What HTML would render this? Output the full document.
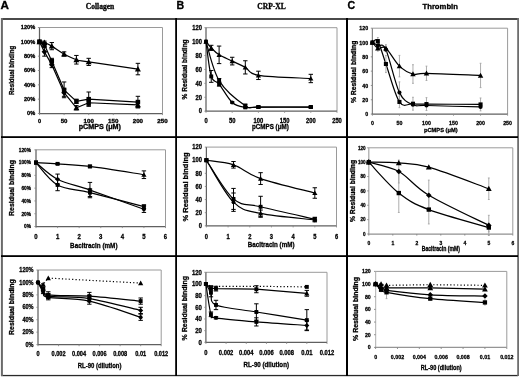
<!DOCTYPE html>
<html><head><meta charset="utf-8"><style>
html,body{margin:0;padding:0;background:#fff;width:520px;height:377px;overflow:hidden;}
svg{display:block;filter:grayscale(1) blur(0.35px);}
text{fill:#000;stroke:#000;stroke-width:0.3px;}
</style></head><body>
<svg width="520" height="377" viewBox="0 0 520 377">
<rect width="520" height="377" fill="#fff"/>
<rect x="1" y="18" width="517" height="2" fill="#4a4a4a"/>
<rect x="1" y="374.9" width="517" height="1.3" fill="#2a2a2a"/>
<rect x="0.9" y="18" width="2" height="358" fill="#6a6a6a"/>
<rect x="517.2" y="18" width="1.8" height="358" fill="#6e6e6e"/>
<rect x="175.2" y="18" width="1.8" height="358" fill="#000"/>
<rect x="346" y="18" width="2" height="358" fill="#000"/>
<rect x="1" y="136.2" width="517" height="1.8" fill="#000"/>
<rect x="1" y="255.2" width="517" height="1.8" fill="#000"/>
<path d="M39.50,27.50 H162.50 V113.50" fill="none" stroke="#9a9a9a" stroke-width="1"/>
<path d="M39.50,27.50 V113.50" fill="none" stroke="#606060" stroke-width="1.25"/>
<path d="M38.90,113.50 H162.50" fill="none" stroke="#606060" stroke-width="1.25"/>
<line x1="37.90" y1="113.50" x2="39.50" y2="113.50" stroke="#888" stroke-width="0.9"/>
<text x="27.11" y="115.26" font-size="5.43" font-weight="bold" font-family="Liberation Sans, sans-serif" textLength="8.09" lengthAdjust="spacingAndGlyphs">0%</text>
<line x1="37.90" y1="99.17" x2="39.50" y2="99.17" stroke="#888" stroke-width="0.9"/>
<text x="23.99" y="100.92" font-size="5.43" font-weight="bold" font-family="Liberation Sans, sans-serif" textLength="11.21" lengthAdjust="spacingAndGlyphs">20%</text>
<line x1="37.90" y1="84.83" x2="39.50" y2="84.83" stroke="#888" stroke-width="0.9"/>
<text x="23.99" y="86.59" font-size="5.43" font-weight="bold" font-family="Liberation Sans, sans-serif" textLength="11.21" lengthAdjust="spacingAndGlyphs">40%</text>
<line x1="37.90" y1="70.50" x2="39.50" y2="70.50" stroke="#888" stroke-width="0.9"/>
<text x="23.99" y="72.26" font-size="5.43" font-weight="bold" font-family="Liberation Sans, sans-serif" textLength="11.21" lengthAdjust="spacingAndGlyphs">60%</text>
<line x1="37.90" y1="56.17" x2="39.50" y2="56.17" stroke="#888" stroke-width="0.9"/>
<text x="23.99" y="57.92" font-size="5.43" font-weight="bold" font-family="Liberation Sans, sans-serif" textLength="11.21" lengthAdjust="spacingAndGlyphs">80%</text>
<line x1="37.90" y1="41.83" x2="39.50" y2="41.83" stroke="#888" stroke-width="0.9"/>
<text x="20.88" y="43.59" font-size="5.43" font-weight="bold" font-family="Liberation Sans, sans-serif" textLength="14.32" lengthAdjust="spacingAndGlyphs">100%</text>
<line x1="37.90" y1="27.50" x2="39.50" y2="27.50" stroke="#888" stroke-width="0.9"/>
<text x="20.88" y="29.26" font-size="5.43" font-weight="bold" font-family="Liberation Sans, sans-serif" textLength="14.32" lengthAdjust="spacingAndGlyphs">120%</text>
<line x1="39.50" y1="113.50" x2="39.50" y2="115.10" stroke="#888" stroke-width="0.9"/>
<text x="37.94" y="122.86" font-size="5.43" font-weight="bold" font-family="Liberation Sans, sans-serif" textLength="3.11" lengthAdjust="spacingAndGlyphs">0</text>
<line x1="64.10" y1="113.50" x2="64.10" y2="115.10" stroke="#888" stroke-width="0.9"/>
<text x="60.74" y="122.86" font-size="5.43" font-weight="bold" font-family="Liberation Sans, sans-serif" textLength="6.73" lengthAdjust="spacingAndGlyphs">50</text>
<line x1="88.70" y1="113.50" x2="88.70" y2="115.10" stroke="#888" stroke-width="0.9"/>
<text x="83.53" y="122.86" font-size="5.43" font-weight="bold" font-family="Liberation Sans, sans-serif" textLength="10.34" lengthAdjust="spacingAndGlyphs">100</text>
<line x1="113.30" y1="113.50" x2="113.30" y2="115.10" stroke="#888" stroke-width="0.9"/>
<text x="108.13" y="122.86" font-size="5.43" font-weight="bold" font-family="Liberation Sans, sans-serif" textLength="10.34" lengthAdjust="spacingAndGlyphs">150</text>
<line x1="137.90" y1="113.50" x2="137.90" y2="115.10" stroke="#888" stroke-width="0.9"/>
<text x="132.73" y="122.86" font-size="5.43" font-weight="bold" font-family="Liberation Sans, sans-serif" textLength="10.34" lengthAdjust="spacingAndGlyphs">200</text>
<line x1="162.50" y1="113.50" x2="162.50" y2="115.10" stroke="#888" stroke-width="0.9"/>
<text x="157.33" y="122.86" font-size="5.43" font-weight="bold" font-family="Liberation Sans, sans-serif" textLength="10.34" lengthAdjust="spacingAndGlyphs">250</text>
<text x="78.70" y="128.80" font-size="6.30" font-weight="bold" font-family="Liberation Sans, sans-serif" textLength="42.20" lengthAdjust="spacingAndGlyphs">pCMPS (μM)</text>
<text transform="translate(14.30,70.40) rotate(-90)" text-anchor="middle" font-size="7.2" font-weight="bold" font-family="Liberation Sans, sans-serif" textLength="49.40" lengthAdjust="spacingAndGlyphs">Residual binding</text>
<path d="M39.50,41.83 C40.32,41.95 42.37,41.83 44.42,42.55 C46.47,43.27 48.52,44.22 51.80,46.13 C55.08,48.04 60.00,51.75 64.10,54.02 C68.20,56.29 72.30,58.44 76.40,59.75 C80.50,61.06 78.45,60.35 88.70,61.90 C98.95,63.45 129.70,67.87 137.90,69.07" fill="none" stroke="#000" stroke-width="1.2"/>
<path d="M39.50,41.83 L44.42,44.70 L51.80,61.18 L64.10,89.85 L76.40,101.32 L88.70,99.17 L137.90,102.03" fill="none" stroke="#000" stroke-width="1.2"/>
<path d="M39.50,41.83 L44.42,51.87 L51.80,64.77 L64.10,92.72 L76.40,107.77 L88.70,102.75 L137.90,104.90" fill="none" stroke="#000" stroke-width="1.2"/>
<path d="M44.42,41.12 V43.98 M42.22,41.12 H46.62 M42.22,43.98 H46.62" stroke="#000" stroke-width="1.0" fill="none"/>
<path d="M51.80,42.55 V49.72 M49.60,42.55 H54.00 M49.60,49.72 H54.00" stroke="#000" stroke-width="1.0" fill="none"/>
<path d="M64.10,51.87 V56.17 M61.90,51.87 H66.30 M61.90,56.17 H66.30" stroke="#000" stroke-width="1.0" fill="none"/>
<path d="M76.40,55.45 V64.05 M74.20,55.45 H78.60 M74.20,64.05 H78.60" stroke="#000" stroke-width="1.0" fill="none"/>
<path d="M88.70,58.32 V65.48 M86.50,58.32 H90.90 M86.50,65.48 H90.90" stroke="#000" stroke-width="1.0" fill="none"/>
<path d="M137.90,63.33 V74.80 M135.70,63.33 H140.10 M135.70,74.80 H140.10" stroke="#000" stroke-width="1.0" fill="none"/>
<path d="M44.42,42.55 V46.85 M42.22,42.55 H46.62 M42.22,46.85 H46.62" stroke="#000" stroke-width="1.0" fill="none"/>
<path d="M51.80,58.32 V64.05 M49.60,58.32 H54.00 M49.60,64.05 H54.00" stroke="#000" stroke-width="1.0" fill="none"/>
<path d="M64.10,81.97 V97.73 M61.90,81.97 H66.30 M61.90,97.73 H66.30" stroke="#000" stroke-width="1.0" fill="none"/>
<path d="M76.40,99.17 V103.47 M74.20,99.17 H78.60 M74.20,103.47 H78.60" stroke="#000" stroke-width="1.0" fill="none"/>
<path d="M88.70,92.00 V106.33 M86.50,92.00 H90.90 M86.50,106.33 H90.90" stroke="#000" stroke-width="1.0" fill="none"/>
<path d="M137.90,96.30 V107.77 M135.70,96.30 H140.10 M135.70,107.77 H140.10" stroke="#000" stroke-width="1.0" fill="none"/>
<path d="M44.42,47.57 V56.17 M42.22,47.57 H46.62 M42.22,56.17 H46.62" stroke="#000" stroke-width="1.0" fill="none"/>
<path d="M51.80,61.90 V67.63 M49.60,61.90 H54.00 M49.60,67.63 H54.00" stroke="#000" stroke-width="1.0" fill="none"/>
<path d="M64.10,89.13 V96.30 M61.90,89.13 H66.30 M61.90,96.30 H66.30" stroke="#000" stroke-width="1.0" fill="none"/>
<path d="M76.40,105.62 V109.92 M74.20,105.62 H78.60 M74.20,109.92 H78.60" stroke="#000" stroke-width="1.0" fill="none"/>
<path d="M88.70,99.88 V105.62 M86.50,99.88 H90.90 M86.50,105.62 H90.90" stroke="#000" stroke-width="1.0" fill="none"/>
<path d="M137.90,102.03 V107.77 M135.70,102.03 H140.10 M135.70,107.77 H140.10" stroke="#000" stroke-width="1.0" fill="none"/>
<path d="M39.50,38.84 L42.49,44.23 L36.51,44.23Z" fill="#000"/>
<path d="M44.42,39.56 L47.41,44.94 L41.43,44.94Z" fill="#000"/>
<path d="M51.80,43.14 L54.79,48.53 L48.81,48.53Z" fill="#000"/>
<path d="M64.10,51.03 L67.09,56.41 L61.11,56.41Z" fill="#000"/>
<path d="M76.40,56.76 L79.39,62.14 L73.41,62.14Z" fill="#000"/>
<path d="M88.70,58.91 L91.69,64.29 L85.71,64.29Z" fill="#000"/>
<path d="M137.90,66.08 L140.89,71.46 L134.91,71.46Z" fill="#000"/>
<rect x="37.26" y="39.59" width="4.48" height="4.48" fill="#000"/>
<rect x="42.18" y="42.46" width="4.48" height="4.48" fill="#000"/>
<rect x="49.56" y="58.94" width="4.48" height="4.48" fill="#000"/>
<rect x="61.86" y="87.61" width="4.48" height="4.48" fill="#000"/>
<rect x="74.16" y="99.07" width="4.48" height="4.48" fill="#000"/>
<rect x="86.46" y="96.92" width="4.48" height="4.48" fill="#000"/>
<rect x="135.66" y="99.79" width="4.48" height="4.48" fill="#000"/>
<rect x="37.26" y="39.59" width="4.48" height="4.48" fill="#000"/>
<path d="M44.42,48.99 L47.30,51.87 L44.42,54.74 L41.55,51.87Z" fill="#000"/>
<path d="M51.80,61.89 L54.67,64.77 L51.80,67.64 L48.92,64.77Z" fill="#000"/>
<path d="M64.10,89.84 L66.97,92.72 L64.10,95.59 L61.22,92.72Z" fill="#000"/>
<path d="M76.40,104.78 L79.39,110.16 L73.41,110.16Z" fill="#000"/>
<rect x="86.46" y="100.51" width="4.48" height="4.48" fill="#000"/>
<path d="M137.90,101.91 L140.89,107.29 L134.91,107.29Z" fill="#000"/>
<path d="M36.00,149.80 H165.50 V226.50" fill="none" stroke="#9a9a9a" stroke-width="1"/>
<path d="M36.00,149.80 V226.50" fill="none" stroke="#606060" stroke-width="1.25"/>
<path d="M35.40,226.50 H165.50" fill="none" stroke="#606060" stroke-width="1.25"/>
<line x1="34.40" y1="226.50" x2="36.00" y2="226.50" stroke="#888" stroke-width="0.9"/>
<text x="24.06" y="228.34" font-size="5.66" font-weight="bold" font-family="Liberation Sans, sans-serif" textLength="6.94" lengthAdjust="spacingAndGlyphs">0%</text>
<line x1="34.40" y1="213.72" x2="36.00" y2="213.72" stroke="#888" stroke-width="0.9"/>
<text x="21.40" y="215.56" font-size="5.66" font-weight="bold" font-family="Liberation Sans, sans-serif" textLength="9.60" lengthAdjust="spacingAndGlyphs">20%</text>
<line x1="34.40" y1="200.93" x2="36.00" y2="200.93" stroke="#888" stroke-width="0.9"/>
<text x="21.40" y="202.77" font-size="5.66" font-weight="bold" font-family="Liberation Sans, sans-serif" textLength="9.60" lengthAdjust="spacingAndGlyphs">40%</text>
<line x1="34.40" y1="188.15" x2="36.00" y2="188.15" stroke="#888" stroke-width="0.9"/>
<text x="21.40" y="189.99" font-size="5.66" font-weight="bold" font-family="Liberation Sans, sans-serif" textLength="9.60" lengthAdjust="spacingAndGlyphs">60%</text>
<line x1="34.40" y1="175.37" x2="36.00" y2="175.37" stroke="#888" stroke-width="0.9"/>
<text x="21.40" y="177.21" font-size="5.66" font-weight="bold" font-family="Liberation Sans, sans-serif" textLength="9.60" lengthAdjust="spacingAndGlyphs">80%</text>
<line x1="34.40" y1="162.58" x2="36.00" y2="162.58" stroke="#888" stroke-width="0.9"/>
<text x="18.73" y="164.42" font-size="5.66" font-weight="bold" font-family="Liberation Sans, sans-serif" textLength="12.27" lengthAdjust="spacingAndGlyphs">100%</text>
<line x1="34.40" y1="149.80" x2="36.00" y2="149.80" stroke="#888" stroke-width="0.9"/>
<text x="18.73" y="151.64" font-size="5.66" font-weight="bold" font-family="Liberation Sans, sans-serif" textLength="12.27" lengthAdjust="spacingAndGlyphs">120%</text>
<line x1="36.00" y1="226.50" x2="36.00" y2="228.10" stroke="#888" stroke-width="0.9"/>
<text x="34.33" y="238.65" font-size="7.08" font-weight="bold" font-family="Liberation Sans, sans-serif" textLength="3.34" lengthAdjust="spacingAndGlyphs">0</text>
<line x1="57.58" y1="226.50" x2="57.58" y2="228.10" stroke="#888" stroke-width="0.9"/>
<text x="55.92" y="238.65" font-size="7.08" font-weight="bold" font-family="Liberation Sans, sans-serif" textLength="3.34" lengthAdjust="spacingAndGlyphs">1</text>
<line x1="79.17" y1="226.50" x2="79.17" y2="228.10" stroke="#888" stroke-width="0.9"/>
<text x="77.50" y="238.65" font-size="7.08" font-weight="bold" font-family="Liberation Sans, sans-serif" textLength="3.34" lengthAdjust="spacingAndGlyphs">2</text>
<line x1="100.75" y1="226.50" x2="100.75" y2="228.10" stroke="#888" stroke-width="0.9"/>
<text x="99.08" y="238.65" font-size="7.08" font-weight="bold" font-family="Liberation Sans, sans-serif" textLength="3.34" lengthAdjust="spacingAndGlyphs">3</text>
<line x1="122.33" y1="226.50" x2="122.33" y2="228.10" stroke="#888" stroke-width="0.9"/>
<text x="120.67" y="238.65" font-size="7.08" font-weight="bold" font-family="Liberation Sans, sans-serif" textLength="3.34" lengthAdjust="spacingAndGlyphs">4</text>
<line x1="143.92" y1="226.50" x2="143.92" y2="228.10" stroke="#888" stroke-width="0.9"/>
<text x="142.25" y="238.65" font-size="7.08" font-weight="bold" font-family="Liberation Sans, sans-serif" textLength="3.34" lengthAdjust="spacingAndGlyphs">5</text>
<line x1="165.50" y1="226.50" x2="165.50" y2="228.10" stroke="#888" stroke-width="0.9"/>
<text x="163.83" y="238.65" font-size="7.08" font-weight="bold" font-family="Liberation Sans, sans-serif" textLength="3.34" lengthAdjust="spacingAndGlyphs">6</text>
<text x="70.10" y="248.30" font-size="7.05" font-weight="bold" font-family="Liberation Sans, sans-serif" textLength="47.40" lengthAdjust="spacingAndGlyphs">Bacitracin (mM)</text>
<text transform="translate(13.90,188.00) rotate(-90)" text-anchor="middle" font-size="7.8" font-weight="bold" font-family="Liberation Sans, sans-serif" textLength="55.80" lengthAdjust="spacingAndGlyphs">Residual binding</text>
<path d="M36.00,162.58 C39.60,162.80 48.59,163.22 57.58,163.86 C66.58,164.50 75.57,164.61 89.96,166.42 C104.35,168.23 134.92,173.34 143.92,174.73" fill="none" stroke="#000" stroke-width="1.2"/>
<path d="M36.00,162.58 C39.60,165.35 48.59,174.62 57.58,179.20 C66.58,183.78 75.57,185.06 89.96,190.07 C104.35,195.07 134.92,206.05 143.92,209.24" fill="none" stroke="#000" stroke-width="1.2"/>
<path d="M36.00,162.58 C39.60,166.31 48.59,179.95 57.58,184.95 C66.58,189.96 75.57,189.00 89.96,192.62 C104.35,196.25 134.92,204.34 143.92,206.69" fill="none" stroke="#000" stroke-width="1.2"/>
<path d="M57.58,163.22 V164.50 M55.38,163.22 H59.78 M55.38,164.50 H59.78" stroke="#000" stroke-width="1.0" fill="none"/>
<path d="M89.96,165.14 V167.70 M87.76,165.14 H92.16 M87.76,167.70 H92.16" stroke="#000" stroke-width="1.0" fill="none"/>
<path d="M143.92,170.89 V178.56 M141.72,170.89 H146.12 M141.72,178.56 H146.12" stroke="#000" stroke-width="1.0" fill="none"/>
<path d="M57.58,174.09 V184.31 M55.38,174.09 H59.78 M55.38,184.31 H59.78" stroke="#000" stroke-width="1.0" fill="none"/>
<path d="M89.96,182.40 V197.74 M87.76,182.40 H92.16 M87.76,197.74 H92.16" stroke="#000" stroke-width="1.0" fill="none"/>
<path d="M143.92,206.05 V212.44 M141.72,206.05 H146.12 M141.72,212.44 H146.12" stroke="#000" stroke-width="1.0" fill="none"/>
<path d="M57.58,179.20 V190.71 M55.38,179.20 H59.78 M55.38,190.71 H59.78" stroke="#000" stroke-width="1.0" fill="none"/>
<path d="M89.96,188.79 V196.46 M87.76,188.79 H92.16 M87.76,196.46 H92.16" stroke="#000" stroke-width="1.0" fill="none"/>
<path d="M143.92,204.77 V208.60 M141.72,204.77 H146.12 M141.72,208.60 H146.12" stroke="#000" stroke-width="1.0" fill="none"/>
<rect x="34.05" y="160.63" width="3.90" height="3.90" fill="#000"/>
<rect x="55.63" y="161.91" width="3.90" height="3.90" fill="#000"/>
<rect x="88.01" y="164.47" width="3.90" height="3.90" fill="#000"/>
<path d="M143.92,172.13 L146.52,176.81 L141.32,176.81Z" fill="#000"/>
<rect x="34.05" y="160.63" width="3.90" height="3.90" fill="#000"/>
<path d="M57.58,176.70 L60.08,179.20 L57.58,181.70 L55.08,179.20Z" fill="#000"/>
<path d="M89.96,187.57 L92.46,190.07 L89.96,192.57 L87.46,190.07Z" fill="#000"/>
<circle cx="143.92" cy="209.24" r="1.95" fill="#000"/>
<rect x="34.05" y="160.63" width="3.90" height="3.90" fill="#000"/>
<rect x="55.63" y="183.00" width="3.90" height="3.90" fill="#000"/>
<rect x="88.01" y="190.67" width="3.90" height="3.90" fill="#000"/>
<rect x="141.97" y="204.74" width="3.90" height="3.90" fill="#000"/>
<path d="M38.00,270.00 H161.20 V344.60" fill="none" stroke="#9a9a9a" stroke-width="1"/>
<path d="M38.00,270.00 V344.60" fill="none" stroke="#606060" stroke-width="1.25"/>
<path d="M37.40,344.60 H161.20" fill="none" stroke="#606060" stroke-width="1.25"/>
<line x1="36.40" y1="344.60" x2="38.00" y2="344.60" stroke="#888" stroke-width="0.9"/>
<text x="25.51" y="346.78" font-size="6.61" font-weight="bold" font-family="Liberation Sans, sans-serif" textLength="8.09" lengthAdjust="spacingAndGlyphs">0%</text>
<line x1="36.40" y1="332.17" x2="38.00" y2="332.17" stroke="#888" stroke-width="0.9"/>
<text x="22.39" y="334.35" font-size="6.61" font-weight="bold" font-family="Liberation Sans, sans-serif" textLength="11.21" lengthAdjust="spacingAndGlyphs">20%</text>
<line x1="36.40" y1="319.73" x2="38.00" y2="319.73" stroke="#888" stroke-width="0.9"/>
<text x="22.39" y="321.91" font-size="6.61" font-weight="bold" font-family="Liberation Sans, sans-serif" textLength="11.21" lengthAdjust="spacingAndGlyphs">40%</text>
<line x1="36.40" y1="307.30" x2="38.00" y2="307.30" stroke="#888" stroke-width="0.9"/>
<text x="22.39" y="309.48" font-size="6.61" font-weight="bold" font-family="Liberation Sans, sans-serif" textLength="11.21" lengthAdjust="spacingAndGlyphs">60%</text>
<line x1="36.40" y1="294.87" x2="38.00" y2="294.87" stroke="#888" stroke-width="0.9"/>
<text x="22.39" y="297.05" font-size="6.61" font-weight="bold" font-family="Liberation Sans, sans-serif" textLength="11.21" lengthAdjust="spacingAndGlyphs">80%</text>
<line x1="36.40" y1="282.43" x2="38.00" y2="282.43" stroke="#888" stroke-width="0.9"/>
<text x="19.28" y="284.61" font-size="6.61" font-weight="bold" font-family="Liberation Sans, sans-serif" textLength="14.32" lengthAdjust="spacingAndGlyphs">100%</text>
<line x1="36.40" y1="270.00" x2="38.00" y2="270.00" stroke="#888" stroke-width="0.9"/>
<text x="19.28" y="272.18" font-size="6.61" font-weight="bold" font-family="Liberation Sans, sans-serif" textLength="14.32" lengthAdjust="spacingAndGlyphs">120%</text>
<line x1="38.00" y1="344.60" x2="38.00" y2="346.20" stroke="#888" stroke-width="0.9"/>
<text x="36.44" y="355.58" font-size="6.61" font-weight="bold" font-family="Liberation Sans, sans-serif" textLength="3.11" lengthAdjust="spacingAndGlyphs">0</text>
<line x1="58.53" y1="344.60" x2="58.53" y2="346.20" stroke="#888" stroke-width="0.9"/>
<text x="51.53" y="355.58" font-size="6.61" font-weight="bold" font-family="Liberation Sans, sans-serif" textLength="14.01" lengthAdjust="spacingAndGlyphs">0.002</text>
<line x1="79.07" y1="344.60" x2="79.07" y2="346.20" stroke="#888" stroke-width="0.9"/>
<text x="72.06" y="355.58" font-size="6.61" font-weight="bold" font-family="Liberation Sans, sans-serif" textLength="14.01" lengthAdjust="spacingAndGlyphs">0.004</text>
<line x1="99.60" y1="344.60" x2="99.60" y2="346.20" stroke="#888" stroke-width="0.9"/>
<text x="92.59" y="355.58" font-size="6.61" font-weight="bold" font-family="Liberation Sans, sans-serif" textLength="14.01" lengthAdjust="spacingAndGlyphs">0.006</text>
<line x1="120.13" y1="344.60" x2="120.13" y2="346.20" stroke="#888" stroke-width="0.9"/>
<text x="113.13" y="355.58" font-size="6.61" font-weight="bold" font-family="Liberation Sans, sans-serif" textLength="14.01" lengthAdjust="spacingAndGlyphs">0.008</text>
<line x1="140.67" y1="344.60" x2="140.67" y2="346.20" stroke="#888" stroke-width="0.9"/>
<text x="135.22" y="355.58" font-size="6.61" font-weight="bold" font-family="Liberation Sans, sans-serif" textLength="10.90" lengthAdjust="spacingAndGlyphs">0.01</text>
<line x1="161.20" y1="344.60" x2="161.20" y2="346.20" stroke="#888" stroke-width="0.9"/>
<text x="154.19" y="355.58" font-size="6.61" font-weight="bold" font-family="Liberation Sans, sans-serif" textLength="14.01" lengthAdjust="spacingAndGlyphs">0.012</text>
<text x="77.80" y="367.60" font-size="7.05" font-weight="bold" font-family="Liberation Sans, sans-serif" textLength="43.70" lengthAdjust="spacingAndGlyphs">RL-90 (dilution)</text>
<text transform="translate(14.30,307.10) rotate(-90)" text-anchor="middle" font-size="7.5" font-weight="bold" font-family="Liberation Sans, sans-serif" textLength="55.60" lengthAdjust="spacingAndGlyphs">Residual binding</text>
<path d="M38.00,282.43 L43.13,284.30 L48.27,278.08 L89.33,280.32 L140.67,283.06" fill="none" stroke="#000" stroke-width="1.2" stroke-dasharray="1.2,2.2"/>
<path d="M38.00,282.43 C38.86,283.47 41.42,286.58 43.13,288.65 C44.84,290.72 40.57,293.62 48.27,294.87 C55.97,296.11 73.93,295.07 89.33,296.11 C104.73,297.15 132.11,300.25 140.67,301.08" fill="none" stroke="#000" stroke-width="1.2"/>
<path d="M38.00,282.43 C38.86,283.68 41.42,287.61 43.13,289.89 C44.84,292.17 40.57,294.66 48.27,296.11 C55.97,297.56 73.93,296.21 89.33,298.60 C104.73,300.98 132.11,308.44 140.67,310.41" fill="none" stroke="#000" stroke-width="1.2"/>
<path d="M38.00,282.43 C38.86,283.99 41.42,289.27 43.13,291.76 C44.84,294.25 40.57,295.80 48.27,297.35 C55.97,298.91 73.93,297.77 89.33,301.08 C104.73,304.40 132.11,314.55 140.67,317.25" fill="none" stroke="#000" stroke-width="1.2"/>
<path d="M43.13,286.79 V290.51 M40.93,286.79 H45.33 M40.93,290.51 H45.33" stroke="#000" stroke-width="1.0" fill="none"/>
<path d="M48.27,291.76 V297.98 M46.07,291.76 H50.47 M46.07,297.98 H50.47" stroke="#000" stroke-width="1.0" fill="none"/>
<path d="M89.33,292.38 V299.84 M87.13,292.38 H91.53 M87.13,299.84 H91.53" stroke="#000" stroke-width="1.0" fill="none"/>
<path d="M140.67,297.98 V304.19 M138.47,297.98 H142.87 M138.47,304.19 H142.87" stroke="#000" stroke-width="1.0" fill="none"/>
<path d="M43.13,288.03 V291.76 M40.93,288.03 H45.33 M40.93,291.76 H45.33" stroke="#000" stroke-width="1.0" fill="none"/>
<path d="M48.27,293.62 V298.60 M46.07,293.62 H50.47 M46.07,298.60 H50.47" stroke="#000" stroke-width="1.0" fill="none"/>
<path d="M89.33,295.49 V301.71 M87.13,295.49 H91.53 M87.13,301.71 H91.53" stroke="#000" stroke-width="1.0" fill="none"/>
<path d="M140.67,307.30 V313.52 M138.47,307.30 H142.87 M138.47,313.52 H142.87" stroke="#000" stroke-width="1.0" fill="none"/>
<path d="M43.13,289.89 V293.62 M40.93,289.89 H45.33 M40.93,293.62 H45.33" stroke="#000" stroke-width="1.0" fill="none"/>
<path d="M48.27,294.87 V299.84 M46.07,294.87 H50.47 M46.07,299.84 H50.47" stroke="#000" stroke-width="1.0" fill="none"/>
<path d="M89.33,297.98 V304.19 M87.13,297.98 H91.53 M87.13,304.19 H91.53" stroke="#000" stroke-width="1.0" fill="none"/>
<path d="M140.67,314.14 V320.36 M138.47,314.14 H142.87 M138.47,320.36 H142.87" stroke="#000" stroke-width="1.0" fill="none"/>
<path d="M43.13,281.70 L45.73,286.38 L40.53,286.38Z" fill="#000"/>
<path d="M48.27,275.48 L50.87,280.16 L45.67,280.16Z" fill="#000"/>
<path d="M140.67,280.45 L143.27,285.13 L138.07,285.13Z" fill="#000"/>
<rect x="36.05" y="280.48" width="3.90" height="3.90" fill="#000"/>
<rect x="41.18" y="286.70" width="3.90" height="3.90" fill="#000"/>
<rect x="46.32" y="292.92" width="3.90" height="3.90" fill="#000"/>
<rect x="87.38" y="294.16" width="3.90" height="3.90" fill="#000"/>
<rect x="138.72" y="299.13" width="3.90" height="3.90" fill="#000"/>
<path d="M38.00,279.93 L40.50,282.43 L38.00,284.93 L35.50,282.43Z" fill="#000"/>
<path d="M43.13,287.39 L45.63,289.89 L43.13,292.39 L40.63,289.89Z" fill="#000"/>
<path d="M48.27,293.61 L50.77,296.11 L48.27,298.61 L45.77,296.11Z" fill="#000"/>
<path d="M89.33,296.10 L91.83,298.60 L89.33,301.10 L86.83,298.60Z" fill="#000"/>
<path d="M140.67,307.91 L143.17,310.41 L140.67,312.91 L138.17,310.41Z" fill="#000"/>
<circle cx="38.00" cy="282.43" r="1.95" fill="#000"/>
<circle cx="43.13" cy="291.76" r="1.95" fill="#000"/>
<circle cx="48.27" cy="297.35" r="1.95" fill="#000"/>
<circle cx="89.33" cy="301.08" r="1.95" fill="#000"/>
<circle cx="140.67" cy="317.25" r="1.95" fill="#000"/>
<path d="M206.00,27.70 H337.00 V111.20" fill="none" stroke="#9a9a9a" stroke-width="1"/>
<path d="M206.00,27.70 V111.20" fill="none" stroke="#606060" stroke-width="1.25"/>
<path d="M205.40,111.20 H337.00" fill="none" stroke="#606060" stroke-width="1.25"/>
<line x1="204.40" y1="111.20" x2="206.00" y2="111.20" stroke="#888" stroke-width="0.9"/>
<text x="198.68" y="113.46" font-size="6.84" font-weight="bold" font-family="Liberation Sans, sans-serif" textLength="3.22" lengthAdjust="spacingAndGlyphs">0</text>
<line x1="204.40" y1="97.28" x2="206.00" y2="97.28" stroke="#888" stroke-width="0.9"/>
<text x="195.45" y="99.55" font-size="6.84" font-weight="bold" font-family="Liberation Sans, sans-serif" textLength="6.45" lengthAdjust="spacingAndGlyphs">20</text>
<line x1="204.40" y1="83.37" x2="206.00" y2="83.37" stroke="#888" stroke-width="0.9"/>
<text x="195.45" y="85.63" font-size="6.84" font-weight="bold" font-family="Liberation Sans, sans-serif" textLength="6.45" lengthAdjust="spacingAndGlyphs">40</text>
<line x1="204.40" y1="69.45" x2="206.00" y2="69.45" stroke="#888" stroke-width="0.9"/>
<text x="195.45" y="71.71" font-size="6.84" font-weight="bold" font-family="Liberation Sans, sans-serif" textLength="6.45" lengthAdjust="spacingAndGlyphs">60</text>
<line x1="204.40" y1="55.53" x2="206.00" y2="55.53" stroke="#888" stroke-width="0.9"/>
<text x="195.45" y="57.80" font-size="6.84" font-weight="bold" font-family="Liberation Sans, sans-serif" textLength="6.45" lengthAdjust="spacingAndGlyphs">80</text>
<line x1="204.40" y1="41.62" x2="206.00" y2="41.62" stroke="#888" stroke-width="0.9"/>
<text x="192.23" y="43.88" font-size="6.84" font-weight="bold" font-family="Liberation Sans, sans-serif" textLength="9.67" lengthAdjust="spacingAndGlyphs">100</text>
<line x1="204.40" y1="27.70" x2="206.00" y2="27.70" stroke="#888" stroke-width="0.9"/>
<text x="192.23" y="29.96" font-size="6.84" font-weight="bold" font-family="Liberation Sans, sans-serif" textLength="9.67" lengthAdjust="spacingAndGlyphs">120</text>
<line x1="206.00" y1="111.20" x2="206.00" y2="112.80" stroke="#888" stroke-width="0.9"/>
<text x="204.39" y="122.66" font-size="6.84" font-weight="bold" font-family="Liberation Sans, sans-serif" textLength="3.22" lengthAdjust="spacingAndGlyphs">0</text>
<line x1="232.20" y1="111.20" x2="232.20" y2="112.80" stroke="#888" stroke-width="0.9"/>
<text x="228.98" y="122.66" font-size="6.84" font-weight="bold" font-family="Liberation Sans, sans-serif" textLength="6.45" lengthAdjust="spacingAndGlyphs">50</text>
<line x1="258.40" y1="111.20" x2="258.40" y2="112.80" stroke="#888" stroke-width="0.9"/>
<text x="253.56" y="122.66" font-size="6.84" font-weight="bold" font-family="Liberation Sans, sans-serif" textLength="9.67" lengthAdjust="spacingAndGlyphs">100</text>
<line x1="284.60" y1="111.20" x2="284.60" y2="112.80" stroke="#888" stroke-width="0.9"/>
<text x="279.76" y="122.66" font-size="6.84" font-weight="bold" font-family="Liberation Sans, sans-serif" textLength="9.67" lengthAdjust="spacingAndGlyphs">150</text>
<line x1="310.80" y1="111.20" x2="310.80" y2="112.80" stroke="#888" stroke-width="0.9"/>
<text x="305.96" y="122.66" font-size="6.84" font-weight="bold" font-family="Liberation Sans, sans-serif" textLength="9.67" lengthAdjust="spacingAndGlyphs">200</text>
<line x1="337.00" y1="111.20" x2="337.00" y2="112.80" stroke="#888" stroke-width="0.9"/>
<text x="332.16" y="122.66" font-size="6.84" font-weight="bold" font-family="Liberation Sans, sans-serif" textLength="9.67" lengthAdjust="spacingAndGlyphs">250</text>
<text x="252.00" y="128.50" font-size="6.75" font-weight="bold" font-family="Liberation Sans, sans-serif" textLength="36.80" lengthAdjust="spacingAndGlyphs">pCMPS (μM)</text>
<text transform="translate(186.90,69.40) rotate(-90)" text-anchor="middle" font-size="6.5" font-weight="bold" font-family="Liberation Sans, sans-serif" textLength="60.00" lengthAdjust="spacingAndGlyphs">% Residual binding</text>
<path d="M206.00,41.62 C206.87,42.66 209.06,45.68 211.24,47.88 C213.42,50.08 215.61,52.63 219.10,54.84 C222.59,57.04 227.83,59.01 232.20,61.10 C236.57,63.19 240.93,64.99 245.30,67.36 C249.67,69.74 247.48,73.51 258.40,75.36 C269.32,77.22 302.07,77.97 310.80,78.50" fill="none" stroke="#000" stroke-width="1.2"/>
<path d="M206.00,41.62 C208.18,48.11 212.55,69.91 219.10,80.58 C225.65,91.25 238.75,101.23 245.30,105.63 C251.85,110.04 247.48,106.79 258.40,107.03 C269.32,107.26 302.07,107.03 310.80,107.03" fill="none" stroke="#000" stroke-width="1.2"/>
<path d="M206.00,41.62 C206.87,47.42 209.06,69.33 211.24,76.41 C213.42,83.48 215.61,79.73 219.10,84.06 C222.59,88.40 227.83,98.55 232.20,102.43 C236.57,106.32 240.93,106.61 245.30,107.37 C249.67,108.14 247.48,107.08 258.40,107.03 C269.32,106.97 302.07,107.03 310.80,107.03" fill="none" stroke="#000" stroke-width="1.2"/>
<path d="M211.24,45.30 V50.45 M209.04,45.30 H213.44 M209.04,50.45 H213.44" stroke="#000" stroke-width="1.0" fill="none"/>
<path d="M219.10,46.07 V63.60 M216.90,46.07 H221.30 M216.90,63.60 H221.30" stroke="#000" stroke-width="1.0" fill="none"/>
<path d="M232.20,57.27 V64.93 M230.00,57.27 H234.40 M230.00,64.93 H234.40" stroke="#000" stroke-width="1.0" fill="none"/>
<path d="M245.30,60.75 V73.97 M243.10,60.75 H247.50 M243.10,73.97 H247.50" stroke="#000" stroke-width="1.0" fill="none"/>
<path d="M258.40,71.19 V79.54 M256.20,71.19 H260.60 M256.20,79.54 H260.60" stroke="#000" stroke-width="1.0" fill="none"/>
<path d="M310.80,74.32 V82.67 M308.60,74.32 H313.00 M308.60,82.67 H313.00" stroke="#000" stroke-width="1.0" fill="none"/>
<path d="M219.10,78.50 V82.67 M216.90,78.50 H221.30 M216.90,82.67 H221.30" stroke="#000" stroke-width="1.0" fill="none"/>
<path d="M245.30,104.24 V107.03 M243.10,104.24 H247.50 M243.10,107.03 H247.50" stroke="#000" stroke-width="1.0" fill="none"/>
<path d="M258.40,106.33 V107.72 M256.20,106.33 H260.60 M256.20,107.72 H260.60" stroke="#000" stroke-width="1.0" fill="none"/>
<path d="M310.80,106.33 V107.72 M308.60,106.33 H313.00 M308.60,107.72 H313.00" stroke="#000" stroke-width="1.0" fill="none"/>
<path d="M211.24,70.49 V82.32 M209.04,70.49 H213.44 M209.04,82.32 H213.44" stroke="#000" stroke-width="1.0" fill="none"/>
<path d="M219.10,81.98 V86.15 M216.90,81.98 H221.30 M216.90,86.15 H221.30" stroke="#000" stroke-width="1.0" fill="none"/>
<path d="M232.20,101.74 V103.13 M230.00,101.74 H234.40 M230.00,103.13 H234.40" stroke="#000" stroke-width="1.0" fill="none"/>
<path d="M245.30,106.68 V108.07 M243.10,106.68 H247.50 M243.10,108.07 H247.50" stroke="#000" stroke-width="1.0" fill="none"/>
<path d="M258.40,106.33 V107.72 M256.20,106.33 H260.60 M256.20,107.72 H260.60" stroke="#000" stroke-width="1.0" fill="none"/>
<path d="M310.80,106.33 V107.72 M308.60,106.33 H313.00 M308.60,107.72 H313.00" stroke="#000" stroke-width="1.0" fill="none"/>
<path d="M206.00,39.02 L208.60,43.70 L203.40,43.70Z" fill="#000"/>
<path d="M211.24,45.28 L213.84,49.96 L208.64,49.96Z" fill="#000"/>
<path d="M219.10,52.24 L221.70,56.92 L216.50,56.92Z" fill="#000"/>
<path d="M232.20,58.50 L234.80,63.18 L229.60,63.18Z" fill="#000"/>
<path d="M245.30,64.76 L247.90,69.44 L242.70,69.44Z" fill="#000"/>
<path d="M258.40,72.76 L261.00,77.44 L255.80,77.44Z" fill="#000"/>
<path d="M310.80,75.90 L313.40,80.58 L308.20,80.58Z" fill="#000"/>
<rect x="217.15" y="78.63" width="3.90" height="3.90" fill="#000"/>
<rect x="243.35" y="103.68" width="3.90" height="3.90" fill="#000"/>
<rect x="256.45" y="105.08" width="3.90" height="3.90" fill="#000"/>
<rect x="308.85" y="105.08" width="3.90" height="3.90" fill="#000"/>
<rect x="204.05" y="39.67" width="3.90" height="3.90" fill="#000"/>
<rect x="209.29" y="74.46" width="3.90" height="3.90" fill="#000"/>
<rect x="217.15" y="82.11" width="3.90" height="3.90" fill="#000"/>
<circle cx="232.20" cy="102.43" r="1.95" fill="#000"/>
<rect x="243.35" y="105.42" width="3.90" height="3.90" fill="#000"/>
<rect x="256.45" y="105.08" width="3.90" height="3.90" fill="#000"/>
<rect x="308.85" y="105.08" width="3.90" height="3.90" fill="#000"/>
<path d="M206.40,147.10 H336.50 V225.80" fill="none" stroke="#9a9a9a" stroke-width="1"/>
<path d="M206.40,147.10 V225.80" fill="none" stroke="#606060" stroke-width="1.25"/>
<path d="M205.80,225.80 H336.50" fill="none" stroke="#606060" stroke-width="1.25"/>
<line x1="204.80" y1="225.80" x2="206.40" y2="225.80" stroke="#888" stroke-width="0.9"/>
<text x="198.68" y="228.06" font-size="6.84" font-weight="bold" font-family="Liberation Sans, sans-serif" textLength="3.22" lengthAdjust="spacingAndGlyphs">0</text>
<line x1="204.80" y1="212.68" x2="206.40" y2="212.68" stroke="#888" stroke-width="0.9"/>
<text x="195.45" y="214.95" font-size="6.84" font-weight="bold" font-family="Liberation Sans, sans-serif" textLength="6.45" lengthAdjust="spacingAndGlyphs">20</text>
<line x1="204.80" y1="199.57" x2="206.40" y2="199.57" stroke="#888" stroke-width="0.9"/>
<text x="195.45" y="201.83" font-size="6.84" font-weight="bold" font-family="Liberation Sans, sans-serif" textLength="6.45" lengthAdjust="spacingAndGlyphs">40</text>
<line x1="204.80" y1="186.45" x2="206.40" y2="186.45" stroke="#888" stroke-width="0.9"/>
<text x="195.45" y="188.71" font-size="6.84" font-weight="bold" font-family="Liberation Sans, sans-serif" textLength="6.45" lengthAdjust="spacingAndGlyphs">60</text>
<line x1="204.80" y1="173.33" x2="206.40" y2="173.33" stroke="#888" stroke-width="0.9"/>
<text x="195.45" y="175.60" font-size="6.84" font-weight="bold" font-family="Liberation Sans, sans-serif" textLength="6.45" lengthAdjust="spacingAndGlyphs">80</text>
<line x1="204.80" y1="160.22" x2="206.40" y2="160.22" stroke="#888" stroke-width="0.9"/>
<text x="192.23" y="162.48" font-size="6.84" font-weight="bold" font-family="Liberation Sans, sans-serif" textLength="9.67" lengthAdjust="spacingAndGlyphs">100</text>
<line x1="204.80" y1="147.10" x2="206.40" y2="147.10" stroke="#888" stroke-width="0.9"/>
<text x="192.23" y="149.36" font-size="6.84" font-weight="bold" font-family="Liberation Sans, sans-serif" textLength="9.67" lengthAdjust="spacingAndGlyphs">120</text>
<line x1="206.40" y1="225.80" x2="206.40" y2="227.40" stroke="#888" stroke-width="0.9"/>
<text x="204.79" y="238.86" font-size="6.84" font-weight="bold" font-family="Liberation Sans, sans-serif" textLength="3.22" lengthAdjust="spacingAndGlyphs">0</text>
<line x1="228.08" y1="225.80" x2="228.08" y2="227.40" stroke="#888" stroke-width="0.9"/>
<text x="226.47" y="238.86" font-size="6.84" font-weight="bold" font-family="Liberation Sans, sans-serif" textLength="3.22" lengthAdjust="spacingAndGlyphs">1</text>
<line x1="249.77" y1="225.80" x2="249.77" y2="227.40" stroke="#888" stroke-width="0.9"/>
<text x="248.15" y="238.86" font-size="6.84" font-weight="bold" font-family="Liberation Sans, sans-serif" textLength="3.22" lengthAdjust="spacingAndGlyphs">2</text>
<line x1="271.45" y1="225.80" x2="271.45" y2="227.40" stroke="#888" stroke-width="0.9"/>
<text x="269.84" y="238.86" font-size="6.84" font-weight="bold" font-family="Liberation Sans, sans-serif" textLength="3.22" lengthAdjust="spacingAndGlyphs">3</text>
<line x1="293.13" y1="225.80" x2="293.13" y2="227.40" stroke="#888" stroke-width="0.9"/>
<text x="291.52" y="238.86" font-size="6.84" font-weight="bold" font-family="Liberation Sans, sans-serif" textLength="3.22" lengthAdjust="spacingAndGlyphs">4</text>
<line x1="314.82" y1="225.80" x2="314.82" y2="227.40" stroke="#888" stroke-width="0.9"/>
<text x="313.20" y="238.86" font-size="6.84" font-weight="bold" font-family="Liberation Sans, sans-serif" textLength="3.22" lengthAdjust="spacingAndGlyphs">5</text>
<line x1="336.50" y1="225.80" x2="336.50" y2="227.40" stroke="#888" stroke-width="0.9"/>
<text x="334.89" y="238.86" font-size="6.84" font-weight="bold" font-family="Liberation Sans, sans-serif" textLength="3.22" lengthAdjust="spacingAndGlyphs">6</text>
<text x="247.80" y="247.30" font-size="7.05" font-weight="bold" font-family="Liberation Sans, sans-serif" textLength="46.70" lengthAdjust="spacingAndGlyphs">Bacitracin (mM)</text>
<text transform="translate(187.70,186.90) rotate(-90)" text-anchor="middle" font-size="7.5" font-weight="bold" font-family="Liberation Sans, sans-serif" textLength="69.20" lengthAdjust="spacingAndGlyphs">% Residual binding</text>
<path d="M206.40,160.22 C210.92,160.98 224.47,161.75 233.50,164.81 C242.54,167.87 247.06,173.88 260.61,178.58 C274.16,183.28 305.78,190.60 314.82,193.01" fill="none" stroke="#000" stroke-width="1.2"/>
<path d="M206.40,160.22 C210.92,166.67 224.47,191.15 233.50,198.91 C242.54,206.67 247.06,203.39 260.61,206.78 C274.16,210.17 305.78,217.16 314.82,219.24" fill="none" stroke="#000" stroke-width="1.2"/>
<path d="M206.40,160.22 C210.92,167.21 224.47,193.34 233.50,202.19 C242.54,211.04 247.06,210.39 260.61,213.34 C274.16,216.29 305.78,218.80 314.82,219.90" fill="none" stroke="#000" stroke-width="1.2"/>
<path d="M233.50,161.53 V168.09 M231.30,161.53 H235.70 M231.30,168.09 H235.70" stroke="#000" stroke-width="1.0" fill="none"/>
<path d="M260.61,172.68 V184.48 M258.41,172.68 H262.81 M258.41,184.48 H262.81" stroke="#000" stroke-width="1.0" fill="none"/>
<path d="M314.82,187.76 V198.25 M312.62,187.76 H317.02 M312.62,198.25 H317.02" stroke="#000" stroke-width="1.0" fill="none"/>
<path d="M233.50,188.42 V209.40 M231.30,188.42 H235.70 M231.30,209.40 H235.70" stroke="#000" stroke-width="1.0" fill="none"/>
<path d="M260.61,196.29 V217.27 M258.41,196.29 H262.81 M258.41,217.27 H262.81" stroke="#000" stroke-width="1.0" fill="none"/>
<path d="M314.82,217.27 V221.21 M312.62,217.27 H317.02 M312.62,221.21 H317.02" stroke="#000" stroke-width="1.0" fill="none"/>
<path d="M233.50,193.01 V211.37 M231.30,193.01 H235.70 M231.30,211.37 H235.70" stroke="#000" stroke-width="1.0" fill="none"/>
<path d="M260.61,210.06 V216.62 M258.41,210.06 H262.81 M258.41,216.62 H262.81" stroke="#000" stroke-width="1.0" fill="none"/>
<path d="M314.82,217.93 V221.87 M312.62,217.93 H317.02 M312.62,221.87 H317.02" stroke="#000" stroke-width="1.0" fill="none"/>
<rect x="204.45" y="158.27" width="3.90" height="3.90" fill="#000"/>
<path d="M233.50,162.21 L236.10,166.89 L230.90,166.89Z" fill="#000"/>
<path d="M260.61,175.98 L263.21,180.66 L258.01,180.66Z" fill="#000"/>
<path d="M314.82,190.41 L317.42,195.09 L312.22,195.09Z" fill="#000"/>
<rect x="204.45" y="158.27" width="3.90" height="3.90" fill="#000"/>
<rect x="231.55" y="196.96" width="3.90" height="3.90" fill="#000"/>
<rect x="258.66" y="204.83" width="3.90" height="3.90" fill="#000"/>
<rect x="312.87" y="217.29" width="3.90" height="3.90" fill="#000"/>
<rect x="204.45" y="158.27" width="3.90" height="3.90" fill="#000"/>
<circle cx="233.50" cy="202.19" r="1.95" fill="#000"/>
<path d="M260.61,210.74 L263.21,215.42 L258.01,215.42Z" fill="#000"/>
<path d="M314.82,217.40 L317.32,219.90 L314.82,222.40 L312.32,219.90Z" fill="#000"/>
<path d="M205.90,272.30 H327.00 V342.30" fill="none" stroke="#9a9a9a" stroke-width="1"/>
<path d="M205.90,272.30 V342.30" fill="none" stroke="#606060" stroke-width="1.25"/>
<path d="M205.30,342.30 H327.00" fill="none" stroke="#606060" stroke-width="1.25"/>
<line x1="204.30" y1="342.30" x2="205.90" y2="342.30" stroke="#888" stroke-width="0.9"/>
<text x="198.56" y="344.65" font-size="7.08" font-weight="bold" font-family="Liberation Sans, sans-serif" textLength="3.34" lengthAdjust="spacingAndGlyphs">0</text>
<line x1="204.30" y1="330.63" x2="205.90" y2="330.63" stroke="#888" stroke-width="0.9"/>
<text x="195.23" y="332.98" font-size="7.08" font-weight="bold" font-family="Liberation Sans, sans-serif" textLength="6.67" lengthAdjust="spacingAndGlyphs">20</text>
<line x1="204.30" y1="318.97" x2="205.90" y2="318.97" stroke="#888" stroke-width="0.9"/>
<text x="195.23" y="321.32" font-size="7.08" font-weight="bold" font-family="Liberation Sans, sans-serif" textLength="6.67" lengthAdjust="spacingAndGlyphs">40</text>
<line x1="204.30" y1="307.30" x2="205.90" y2="307.30" stroke="#888" stroke-width="0.9"/>
<text x="195.23" y="309.65" font-size="7.08" font-weight="bold" font-family="Liberation Sans, sans-serif" textLength="6.67" lengthAdjust="spacingAndGlyphs">60</text>
<line x1="204.30" y1="295.63" x2="205.90" y2="295.63" stroke="#888" stroke-width="0.9"/>
<text x="195.23" y="297.98" font-size="7.08" font-weight="bold" font-family="Liberation Sans, sans-serif" textLength="6.67" lengthAdjust="spacingAndGlyphs">80</text>
<line x1="204.30" y1="283.97" x2="205.90" y2="283.97" stroke="#888" stroke-width="0.9"/>
<text x="191.89" y="286.32" font-size="7.08" font-weight="bold" font-family="Liberation Sans, sans-serif" textLength="10.01" lengthAdjust="spacingAndGlyphs">100</text>
<line x1="204.30" y1="272.30" x2="205.90" y2="272.30" stroke="#888" stroke-width="0.9"/>
<text x="191.89" y="274.65" font-size="7.08" font-weight="bold" font-family="Liberation Sans, sans-serif" textLength="10.01" lengthAdjust="spacingAndGlyphs">120</text>
<line x1="205.90" y1="342.30" x2="205.90" y2="343.90" stroke="#888" stroke-width="0.9"/>
<text x="204.29" y="354.86" font-size="6.84" font-weight="bold" font-family="Liberation Sans, sans-serif" textLength="3.22" lengthAdjust="spacingAndGlyphs">0</text>
<line x1="226.08" y1="342.30" x2="226.08" y2="343.90" stroke="#888" stroke-width="0.9"/>
<text x="218.83" y="354.86" font-size="6.84" font-weight="bold" font-family="Liberation Sans, sans-serif" textLength="14.51" lengthAdjust="spacingAndGlyphs">0.002</text>
<line x1="246.27" y1="342.30" x2="246.27" y2="343.90" stroke="#888" stroke-width="0.9"/>
<text x="239.01" y="354.86" font-size="6.84" font-weight="bold" font-family="Liberation Sans, sans-serif" textLength="14.51" lengthAdjust="spacingAndGlyphs">0.004</text>
<line x1="266.45" y1="342.30" x2="266.45" y2="343.90" stroke="#888" stroke-width="0.9"/>
<text x="259.19" y="354.86" font-size="6.84" font-weight="bold" font-family="Liberation Sans, sans-serif" textLength="14.51" lengthAdjust="spacingAndGlyphs">0.006</text>
<line x1="286.63" y1="342.30" x2="286.63" y2="343.90" stroke="#888" stroke-width="0.9"/>
<text x="279.38" y="354.86" font-size="6.84" font-weight="bold" font-family="Liberation Sans, sans-serif" textLength="14.51" lengthAdjust="spacingAndGlyphs">0.008</text>
<line x1="306.82" y1="342.30" x2="306.82" y2="343.90" stroke="#888" stroke-width="0.9"/>
<text x="301.17" y="354.86" font-size="6.84" font-weight="bold" font-family="Liberation Sans, sans-serif" textLength="11.29" lengthAdjust="spacingAndGlyphs">0.01</text>
<line x1="327.00" y1="342.30" x2="327.00" y2="343.90" stroke="#888" stroke-width="0.9"/>
<text x="319.74" y="354.86" font-size="6.84" font-weight="bold" font-family="Liberation Sans, sans-serif" textLength="14.51" lengthAdjust="spacingAndGlyphs">0.012</text>
<text x="243.60" y="366.60" font-size="7.05" font-weight="bold" font-family="Liberation Sans, sans-serif" textLength="45.40" lengthAdjust="spacingAndGlyphs">RL-90 (dilution)</text>
<text transform="translate(187.20,308.20) rotate(-90)" text-anchor="middle" font-size="7.0" font-weight="bold" font-family="Liberation Sans, sans-serif" textLength="64.60" lengthAdjust="spacingAndGlyphs">% Residual binding</text>
<path d="M205.90,283.97 L210.95,286.30 L215.99,286.30 L256.36,286.30 L306.82,286.88" fill="none" stroke="#000" stroke-width="1.2" stroke-dasharray="1.2,2.2"/>
<path d="M205.90,283.97 L210.95,288.05 L215.99,288.63 L256.36,289.22 L306.82,293.30" fill="none" stroke="#000" stroke-width="1.2"/>
<path d="M205.90,283.97 C206.74,285.43 209.26,289.22 210.95,292.72 C212.63,296.22 208.42,301.76 215.99,304.97 C223.56,308.18 241.22,309.44 256.36,311.97 C271.50,314.49 298.41,318.77 306.82,320.13" fill="none" stroke="#000" stroke-width="1.2"/>
<path d="M205.90,283.97 C206.74,289.02 209.26,308.66 210.95,314.30 C212.63,319.94 208.42,316.54 215.99,317.80 C223.56,319.06 241.22,320.62 256.36,321.88 C271.50,323.15 298.41,324.80 306.82,325.38" fill="none" stroke="#000" stroke-width="1.2"/>
<path d="M210.95,285.72 V290.38 M208.75,285.72 H213.15 M208.75,290.38 H213.15" stroke="#000" stroke-width="1.0" fill="none"/>
<path d="M215.99,286.30 V290.97 M213.79,286.30 H218.19 M213.79,290.97 H218.19" stroke="#000" stroke-width="1.0" fill="none"/>
<path d="M256.36,285.72 V292.72 M254.16,285.72 H258.56 M254.16,292.72 H258.56" stroke="#000" stroke-width="1.0" fill="none"/>
<path d="M306.82,290.38 V296.22 M304.62,290.38 H309.02 M304.62,296.22 H309.02" stroke="#000" stroke-width="1.0" fill="none"/>
<path d="M210.95,288.63 V296.80 M208.75,288.63 H213.15 M208.75,296.80 H213.15" stroke="#000" stroke-width="1.0" fill="none"/>
<path d="M215.99,300.30 V309.63 M213.79,300.30 H218.19 M213.79,309.63 H218.19" stroke="#000" stroke-width="1.0" fill="none"/>
<path d="M256.36,303.80 V320.13 M254.16,303.80 H258.56 M254.16,320.13 H258.56" stroke="#000" stroke-width="1.0" fill="none"/>
<path d="M306.82,309.63 V330.63 M304.62,309.63 H309.02 M304.62,330.63 H309.02" stroke="#000" stroke-width="1.0" fill="none"/>
<path d="M210.95,311.97 V316.63 M208.75,311.97 H213.15 M208.75,316.63 H213.15" stroke="#000" stroke-width="1.0" fill="none"/>
<path d="M215.99,316.63 V318.97 M213.79,316.63 H218.19 M213.79,318.97 H218.19" stroke="#000" stroke-width="1.0" fill="none"/>
<path d="M256.36,317.80 V325.97 M254.16,317.80 H258.56 M254.16,325.97 H258.56" stroke="#000" stroke-width="1.0" fill="none"/>
<path d="M306.82,320.72 V330.05 M304.62,320.72 H309.02 M304.62,330.05 H309.02" stroke="#000" stroke-width="1.0" fill="none"/>
<rect x="304.87" y="284.93" width="3.90" height="3.90" fill="#000"/>
<rect x="203.95" y="282.02" width="3.90" height="3.90" fill="#000"/>
<rect x="209.00" y="286.10" width="3.90" height="3.90" fill="#000"/>
<rect x="214.04" y="286.68" width="3.90" height="3.90" fill="#000"/>
<rect x="254.41" y="287.27" width="3.90" height="3.90" fill="#000"/>
<path d="M306.82,290.70 L309.42,295.38 L304.22,295.38Z" fill="#000"/>
<rect x="203.95" y="282.02" width="3.90" height="3.90" fill="#000"/>
<rect x="209.00" y="290.77" width="3.90" height="3.90" fill="#000"/>
<rect x="214.04" y="303.02" width="3.90" height="3.90" fill="#000"/>
<rect x="254.41" y="310.02" width="3.90" height="3.90" fill="#000"/>
<rect x="304.87" y="318.18" width="3.90" height="3.90" fill="#000"/>
<rect x="203.95" y="282.02" width="3.90" height="3.90" fill="#000"/>
<rect x="209.00" y="312.35" width="3.90" height="3.90" fill="#000"/>
<circle cx="215.99" cy="317.80" r="1.95" fill="#000"/>
<rect x="254.41" y="319.93" width="3.90" height="3.90" fill="#000"/>
<path d="M306.82,322.88 L309.32,325.38 L306.82,327.88 L304.32,325.38Z" fill="#000"/>
<path d="M372.40,28.20 H507.60 V114.10" fill="none" stroke="#9a9a9a" stroke-width="1"/>
<path d="M372.40,28.20 V114.10" fill="none" stroke="#858585" stroke-width="1.25"/>
<path d="M371.80,114.10 H507.60" fill="none" stroke="#606060" stroke-width="1.25"/>
<line x1="370.80" y1="114.10" x2="372.40" y2="114.10" stroke="#888" stroke-width="0.9"/>
<text x="365.15" y="116.15" font-size="6.25" font-weight="bold" font-family="Liberation Sans, sans-serif" textLength="2.95" lengthAdjust="spacingAndGlyphs">0</text>
<line x1="370.80" y1="99.78" x2="372.40" y2="99.78" stroke="#888" stroke-width="0.9"/>
<text x="362.21" y="101.83" font-size="6.25" font-weight="bold" font-family="Liberation Sans, sans-serif" textLength="5.89" lengthAdjust="spacingAndGlyphs">20</text>
<line x1="370.80" y1="85.47" x2="372.40" y2="85.47" stroke="#888" stroke-width="0.9"/>
<text x="362.21" y="87.52" font-size="6.25" font-weight="bold" font-family="Liberation Sans, sans-serif" textLength="5.89" lengthAdjust="spacingAndGlyphs">40</text>
<line x1="370.80" y1="71.15" x2="372.40" y2="71.15" stroke="#888" stroke-width="0.9"/>
<text x="362.21" y="73.20" font-size="6.25" font-weight="bold" font-family="Liberation Sans, sans-serif" textLength="5.89" lengthAdjust="spacingAndGlyphs">60</text>
<line x1="370.80" y1="56.83" x2="372.40" y2="56.83" stroke="#888" stroke-width="0.9"/>
<text x="362.21" y="58.88" font-size="6.25" font-weight="bold" font-family="Liberation Sans, sans-serif" textLength="5.89" lengthAdjust="spacingAndGlyphs">80</text>
<line x1="370.80" y1="42.52" x2="372.40" y2="42.52" stroke="#888" stroke-width="0.9"/>
<text x="359.26" y="44.57" font-size="6.25" font-weight="bold" font-family="Liberation Sans, sans-serif" textLength="8.84" lengthAdjust="spacingAndGlyphs">100</text>
<line x1="370.80" y1="28.20" x2="372.40" y2="28.20" stroke="#888" stroke-width="0.9"/>
<text x="359.26" y="30.25" font-size="6.25" font-weight="bold" font-family="Liberation Sans, sans-serif" textLength="8.84" lengthAdjust="spacingAndGlyphs">120</text>
<line x1="372.40" y1="114.10" x2="372.40" y2="115.70" stroke="#888" stroke-width="0.9"/>
<text x="370.93" y="125.25" font-size="6.25" font-weight="bold" font-family="Liberation Sans, sans-serif" textLength="2.95" lengthAdjust="spacingAndGlyphs">0</text>
<line x1="399.44" y1="114.10" x2="399.44" y2="115.70" stroke="#888" stroke-width="0.9"/>
<text x="396.49" y="125.25" font-size="6.25" font-weight="bold" font-family="Liberation Sans, sans-serif" textLength="5.89" lengthAdjust="spacingAndGlyphs">50</text>
<line x1="426.48" y1="114.10" x2="426.48" y2="115.70" stroke="#888" stroke-width="0.9"/>
<text x="422.06" y="125.25" font-size="6.25" font-weight="bold" font-family="Liberation Sans, sans-serif" textLength="8.84" lengthAdjust="spacingAndGlyphs">100</text>
<line x1="453.52" y1="114.10" x2="453.52" y2="115.70" stroke="#888" stroke-width="0.9"/>
<text x="449.10" y="125.25" font-size="6.25" font-weight="bold" font-family="Liberation Sans, sans-serif" textLength="8.84" lengthAdjust="spacingAndGlyphs">150</text>
<line x1="480.56" y1="114.10" x2="480.56" y2="115.70" stroke="#888" stroke-width="0.9"/>
<text x="476.14" y="125.25" font-size="6.25" font-weight="bold" font-family="Liberation Sans, sans-serif" textLength="8.84" lengthAdjust="spacingAndGlyphs">200</text>
<line x1="507.60" y1="114.10" x2="507.60" y2="115.70" stroke="#888" stroke-width="0.9"/>
<text x="503.18" y="125.25" font-size="6.25" font-weight="bold" font-family="Liberation Sans, sans-serif" textLength="8.84" lengthAdjust="spacingAndGlyphs">250</text>
<text x="424.00" y="131.60" font-size="6.00" font-weight="bold" font-family="Liberation Sans, sans-serif" textLength="33.60" lengthAdjust="spacingAndGlyphs">pCMPS (μM)</text>
<text transform="translate(356.00,71.90) rotate(-90)" text-anchor="middle" font-size="6.9" font-weight="bold" font-family="Liberation Sans, sans-serif" textLength="62.40" lengthAdjust="spacingAndGlyphs">% Residual binding</text>
<path d="M372.40,42.52 C373.30,43.47 375.55,47.29 377.81,48.24 C380.06,49.20 382.31,45.26 385.92,48.24 C389.53,51.23 394.93,61.84 399.44,66.14 C403.95,70.43 408.45,72.82 412.96,74.01 C417.47,75.21 415.21,73.06 426.48,73.30 C437.75,73.54 471.55,75.09 480.56,75.44" fill="none" stroke="#000" stroke-width="1.2"/>
<path d="M372.40,42.52 C373.30,42.28 375.55,37.51 377.81,41.09 C380.06,44.66 382.31,53.85 385.92,63.99 C389.53,74.13 394.93,95.31 399.44,101.93 C403.95,108.55 408.45,103.36 412.96,103.72 C417.47,104.08 415.21,103.96 426.48,104.08 C437.75,104.20 471.55,104.38 480.56,104.44" fill="none" stroke="#000" stroke-width="1.2"/>
<path d="M372.40,42.52 C373.30,42.99 375.55,44.19 377.81,45.38 C380.06,46.57 382.31,41.80 385.92,49.67 C389.53,57.55 394.93,83.44 399.44,92.62 C403.95,101.81 408.45,102.65 412.96,104.79 C417.47,106.94 415.21,105.15 426.48,105.51 C437.75,105.87 471.55,106.70 480.56,106.94" fill="none" stroke="#000" stroke-width="1.2"/>
<path d="M377.81,45.38 V51.11 M376.91,45.38 H378.71 M376.91,51.11 H378.71" stroke="#a4a4a4" stroke-width="0.9" fill="none"/>
<path d="M385.92,44.66 V51.82 M385.02,44.66 H386.82 M385.02,51.82 H386.82" stroke="#a4a4a4" stroke-width="0.9" fill="none"/>
<path d="M399.44,55.40 V76.88 M398.54,55.40 H400.34 M398.54,76.88 H400.34" stroke="#a4a4a4" stroke-width="0.9" fill="none"/>
<path d="M412.96,64.71 V83.32 M412.06,64.71 H413.86 M412.06,83.32 H413.86" stroke="#a4a4a4" stroke-width="0.9" fill="none"/>
<path d="M426.48,66.14 V80.46 M425.58,66.14 H427.38 M425.58,80.46 H427.38" stroke="#a4a4a4" stroke-width="0.9" fill="none"/>
<path d="M480.56,63.28 V87.61 M479.66,63.28 H481.46 M479.66,87.61 H481.46" stroke="#a4a4a4" stroke-width="0.9" fill="none"/>
<path d="M377.81,37.51 V44.66 M376.91,37.51 H378.71 M376.91,44.66 H378.71" stroke="#a4a4a4" stroke-width="0.9" fill="none"/>
<path d="M385.92,55.40 V72.58 M385.02,55.40 H386.82 M385.02,72.58 H386.82" stroke="#a4a4a4" stroke-width="0.9" fill="none"/>
<path d="M399.44,96.20 V107.66 M398.54,96.20 H400.34 M398.54,107.66 H400.34" stroke="#a4a4a4" stroke-width="0.9" fill="none"/>
<path d="M412.96,97.28 V110.16 M412.06,97.28 H413.86 M412.06,110.16 H413.86" stroke="#a4a4a4" stroke-width="0.9" fill="none"/>
<path d="M426.48,97.64 V110.52 M425.58,97.64 H427.38 M425.58,110.52 H427.38" stroke="#a4a4a4" stroke-width="0.9" fill="none"/>
<path d="M480.56,97.99 V110.88 M479.66,97.99 H481.46 M479.66,110.88 H481.46" stroke="#a4a4a4" stroke-width="0.9" fill="none"/>
<path d="M399.44,81.89 V103.36 M398.54,81.89 H400.34 M398.54,103.36 H400.34" stroke="#a4a4a4" stroke-width="0.9" fill="none"/>
<path d="M372.40,39.79 L375.13,44.70 L369.67,44.70Z" fill="#000"/>
<path d="M377.81,45.51 L380.54,50.43 L375.08,50.43Z" fill="#000"/>
<path d="M385.92,45.51 L388.65,50.43 L383.19,50.43Z" fill="#000"/>
<path d="M399.44,63.41 L402.17,68.32 L396.71,68.32Z" fill="#000"/>
<path d="M412.96,71.28 L415.69,76.20 L410.23,76.20Z" fill="#000"/>
<path d="M426.48,70.57 L429.21,75.48 L423.75,75.48Z" fill="#000"/>
<path d="M480.56,72.71 L483.29,77.63 L477.83,77.63Z" fill="#000"/>
<rect x="370.35" y="40.47" width="4.09" height="4.09" fill="#000"/>
<rect x="375.76" y="39.04" width="4.09" height="4.09" fill="#000"/>
<rect x="383.87" y="61.94" width="4.09" height="4.09" fill="#000"/>
<rect x="397.39" y="99.88" width="4.09" height="4.09" fill="#000"/>
<rect x="410.91" y="101.67" width="4.09" height="4.09" fill="#000"/>
<rect x="424.43" y="102.03" width="4.09" height="4.09" fill="#000"/>
<rect x="478.51" y="102.39" width="4.09" height="4.09" fill="#000"/>
<circle cx="372.40" cy="42.52" r="2.05" fill="#000"/>
<circle cx="377.81" cy="45.38" r="2.05" fill="#000"/>
<circle cx="385.92" cy="49.67" r="2.05" fill="#000"/>
<circle cx="399.44" cy="92.62" r="2.05" fill="#000"/>
<circle cx="412.96" cy="104.79" r="2.05" fill="#000"/>
<circle cx="426.48" cy="105.51" r="2.05" fill="#000"/>
<circle cx="480.56" cy="106.94" r="2.05" fill="#000"/>
<path d="M368.80,147.80 H512.80 V234.00" fill="none" stroke="#9a9a9a" stroke-width="1"/>
<path d="M368.80,147.80 V234.00" fill="none" stroke="#a8a8a8" stroke-width="1.25"/>
<path d="M368.20,234.00 H512.80" fill="none" stroke="#909090" stroke-width="1.25"/>
<line x1="367.20" y1="234.00" x2="368.80" y2="234.00" stroke="#888" stroke-width="0.9"/>
<text x="363.04" y="235.75" font-size="5.43" font-weight="bold" font-family="Liberation Sans, sans-serif" textLength="2.56" lengthAdjust="spacingAndGlyphs">0</text>
<line x1="367.20" y1="219.63" x2="368.80" y2="219.63" stroke="#888" stroke-width="0.9"/>
<text x="360.48" y="221.39" font-size="5.43" font-weight="bold" font-family="Liberation Sans, sans-serif" textLength="5.12" lengthAdjust="spacingAndGlyphs">20</text>
<line x1="367.20" y1="205.27" x2="368.80" y2="205.27" stroke="#888" stroke-width="0.9"/>
<text x="360.48" y="207.02" font-size="5.43" font-weight="bold" font-family="Liberation Sans, sans-serif" textLength="5.12" lengthAdjust="spacingAndGlyphs">40</text>
<line x1="367.20" y1="190.90" x2="368.80" y2="190.90" stroke="#888" stroke-width="0.9"/>
<text x="360.48" y="192.65" font-size="5.43" font-weight="bold" font-family="Liberation Sans, sans-serif" textLength="5.12" lengthAdjust="spacingAndGlyphs">60</text>
<line x1="367.20" y1="176.53" x2="368.80" y2="176.53" stroke="#888" stroke-width="0.9"/>
<text x="360.48" y="178.29" font-size="5.43" font-weight="bold" font-family="Liberation Sans, sans-serif" textLength="5.12" lengthAdjust="spacingAndGlyphs">80</text>
<line x1="367.20" y1="162.17" x2="368.80" y2="162.17" stroke="#888" stroke-width="0.9"/>
<text x="357.93" y="163.92" font-size="5.43" font-weight="bold" font-family="Liberation Sans, sans-serif" textLength="7.67" lengthAdjust="spacingAndGlyphs">100</text>
<line x1="367.20" y1="147.80" x2="368.80" y2="147.80" stroke="#888" stroke-width="0.9"/>
<text x="357.93" y="149.55" font-size="5.43" font-weight="bold" font-family="Liberation Sans, sans-serif" textLength="7.67" lengthAdjust="spacingAndGlyphs">120</text>
<line x1="368.80" y1="234.00" x2="368.80" y2="235.60" stroke="#888" stroke-width="0.9"/>
<text x="367.41" y="245.12" font-size="5.90" font-weight="bold" font-family="Liberation Sans, sans-serif" textLength="2.78" lengthAdjust="spacingAndGlyphs">0</text>
<line x1="392.80" y1="234.00" x2="392.80" y2="235.60" stroke="#888" stroke-width="0.9"/>
<text x="391.41" y="245.12" font-size="5.90" font-weight="bold" font-family="Liberation Sans, sans-serif" textLength="2.78" lengthAdjust="spacingAndGlyphs">1</text>
<line x1="416.80" y1="234.00" x2="416.80" y2="235.60" stroke="#888" stroke-width="0.9"/>
<text x="415.41" y="245.12" font-size="5.90" font-weight="bold" font-family="Liberation Sans, sans-serif" textLength="2.78" lengthAdjust="spacingAndGlyphs">2</text>
<line x1="440.80" y1="234.00" x2="440.80" y2="235.60" stroke="#888" stroke-width="0.9"/>
<text x="439.41" y="245.12" font-size="5.90" font-weight="bold" font-family="Liberation Sans, sans-serif" textLength="2.78" lengthAdjust="spacingAndGlyphs">3</text>
<line x1="464.80" y1="234.00" x2="464.80" y2="235.60" stroke="#888" stroke-width="0.9"/>
<text x="463.41" y="245.12" font-size="5.90" font-weight="bold" font-family="Liberation Sans, sans-serif" textLength="2.78" lengthAdjust="spacingAndGlyphs">4</text>
<line x1="488.80" y1="234.00" x2="488.80" y2="235.60" stroke="#888" stroke-width="0.9"/>
<text x="487.41" y="245.12" font-size="5.90" font-weight="bold" font-family="Liberation Sans, sans-serif" textLength="2.78" lengthAdjust="spacingAndGlyphs">5</text>
<line x1="512.80" y1="234.00" x2="512.80" y2="235.60" stroke="#888" stroke-width="0.9"/>
<text x="511.41" y="245.12" font-size="5.90" font-weight="bold" font-family="Liberation Sans, sans-serif" textLength="2.78" lengthAdjust="spacingAndGlyphs">6</text>
<text x="421.70" y="250.60" font-size="6.60" font-weight="bold" font-family="Liberation Sans, sans-serif" textLength="38.30" lengthAdjust="spacingAndGlyphs">Bacitracin (mM)</text>
<text transform="translate(354.60,191.00) rotate(-90)" text-anchor="middle" font-size="6.7" font-weight="bold" font-family="Liberation Sans, sans-serif" textLength="62.00" lengthAdjust="spacingAndGlyphs">% Residual binding</text>
<path d="M368.80,162.17 C373.80,162.29 388.80,162.05 398.80,162.89 C408.80,163.72 413.80,162.88 428.80,167.19 C443.80,171.50 478.80,185.15 488.80,188.75" fill="none" stroke="#000" stroke-width="1.2"/>
<path d="M368.80,162.17 C373.80,163.72 388.80,166.00 398.80,171.50 C408.80,177.01 413.80,186.23 428.80,195.21 C443.80,204.19 478.80,220.35 488.80,225.38" fill="none" stroke="#000" stroke-width="1.2"/>
<path d="M368.80,162.17 C373.80,167.31 388.80,185.15 398.80,193.06 C408.80,200.96 413.80,203.83 428.80,209.58 C443.80,215.32 478.80,224.54 488.80,227.53" fill="none" stroke="#000" stroke-width="1.2"/>
<path d="M488.80,177.97 V199.52 M487.90,177.97 H489.70 M487.90,199.52 H489.70" stroke="#a4a4a4" stroke-width="0.9" fill="none"/>
<path d="M398.80,160.01 V183.00 M397.90,160.01 H399.70 M397.90,183.00 H399.70" stroke="#a4a4a4" stroke-width="0.9" fill="none"/>
<path d="M428.80,180.12 V210.30 M427.90,180.12 H429.70 M427.90,210.30 H429.70" stroke="#a4a4a4" stroke-width="0.9" fill="none"/>
<path d="M488.80,215.32 V235.44 M487.90,215.32 H489.70 M487.90,235.44 H489.70" stroke="#a4a4a4" stroke-width="0.9" fill="none"/>
<path d="M398.80,173.66 V212.45 M397.90,173.66 H399.70 M397.90,212.45 H399.70" stroke="#a4a4a4" stroke-width="0.9" fill="none"/>
<path d="M428.80,195.21 V223.94 M427.90,195.21 H429.70 M427.90,223.94 H429.70" stroke="#a4a4a4" stroke-width="0.9" fill="none"/>
<path d="M488.80,223.22 V231.84 M487.90,223.22 H489.70 M487.90,231.84 H489.70" stroke="#a4a4a4" stroke-width="0.9" fill="none"/>
<path d="M368.80,159.25 L371.71,164.50 L365.89,164.50Z" fill="#000"/>
<path d="M398.80,159.97 L401.71,165.21 L395.89,165.21Z" fill="#000"/>
<path d="M428.80,164.28 L431.71,169.52 L425.89,169.52Z" fill="#000"/>
<path d="M488.80,185.83 L491.71,191.07 L485.89,191.07Z" fill="#000"/>
<path d="M368.80,159.37 L371.60,162.17 L368.80,164.97 L366.00,162.17Z" fill="#000"/>
<path d="M398.80,168.70 L401.60,171.50 L398.80,174.31 L396.00,171.50Z" fill="#000"/>
<path d="M428.80,192.41 L431.60,195.21 L428.80,198.01 L426.00,195.21Z" fill="#000"/>
<path d="M488.80,222.58 L491.60,225.38 L488.80,228.18 L486.00,225.38Z" fill="#000"/>
<rect x="366.62" y="159.98" width="4.37" height="4.37" fill="#000"/>
<rect x="396.62" y="190.87" width="4.37" height="4.37" fill="#000"/>
<rect x="426.62" y="207.39" width="4.37" height="4.37" fill="#000"/>
<rect x="486.62" y="225.35" width="4.37" height="4.37" fill="#000"/>
<path d="M375.60,271.40 H506.80 V347.40" fill="none" stroke="#9a9a9a" stroke-width="1"/>
<path d="M375.60,271.40 V347.40" fill="none" stroke="#bdbdbd" stroke-width="1.25"/>
<path d="M375.00,347.40 H506.80" fill="none" stroke="#959595" stroke-width="1.25"/>
<line x1="374.00" y1="347.40" x2="375.60" y2="347.40" stroke="#888" stroke-width="0.9"/>
<text x="367.85" y="349.45" font-size="6.25" font-weight="bold" font-family="Liberation Sans, sans-serif" textLength="2.95" lengthAdjust="spacingAndGlyphs">0</text>
<line x1="374.00" y1="334.73" x2="375.60" y2="334.73" stroke="#888" stroke-width="0.9"/>
<text x="364.91" y="336.78" font-size="6.25" font-weight="bold" font-family="Liberation Sans, sans-serif" textLength="5.89" lengthAdjust="spacingAndGlyphs">20</text>
<line x1="374.00" y1="322.07" x2="375.60" y2="322.07" stroke="#888" stroke-width="0.9"/>
<text x="364.91" y="324.12" font-size="6.25" font-weight="bold" font-family="Liberation Sans, sans-serif" textLength="5.89" lengthAdjust="spacingAndGlyphs">40</text>
<line x1="374.00" y1="309.40" x2="375.60" y2="309.40" stroke="#888" stroke-width="0.9"/>
<text x="364.91" y="311.45" font-size="6.25" font-weight="bold" font-family="Liberation Sans, sans-serif" textLength="5.89" lengthAdjust="spacingAndGlyphs">60</text>
<line x1="374.00" y1="296.73" x2="375.60" y2="296.73" stroke="#888" stroke-width="0.9"/>
<text x="364.91" y="298.78" font-size="6.25" font-weight="bold" font-family="Liberation Sans, sans-serif" textLength="5.89" lengthAdjust="spacingAndGlyphs">80</text>
<line x1="374.00" y1="284.07" x2="375.60" y2="284.07" stroke="#888" stroke-width="0.9"/>
<text x="361.96" y="286.12" font-size="6.25" font-weight="bold" font-family="Liberation Sans, sans-serif" textLength="8.84" lengthAdjust="spacingAndGlyphs">100</text>
<line x1="374.00" y1="271.40" x2="375.60" y2="271.40" stroke="#888" stroke-width="0.9"/>
<text x="361.96" y="273.45" font-size="6.25" font-weight="bold" font-family="Liberation Sans, sans-serif" textLength="8.84" lengthAdjust="spacingAndGlyphs">120</text>
<line x1="375.60" y1="347.40" x2="375.60" y2="349.00" stroke="#888" stroke-width="0.9"/>
<text x="374.13" y="359.25" font-size="6.25" font-weight="bold" font-family="Liberation Sans, sans-serif" textLength="2.95" lengthAdjust="spacingAndGlyphs">0</text>
<line x1="397.47" y1="347.40" x2="397.47" y2="349.00" stroke="#888" stroke-width="0.9"/>
<text x="390.84" y="359.25" font-size="6.25" font-weight="bold" font-family="Liberation Sans, sans-serif" textLength="13.26" lengthAdjust="spacingAndGlyphs">0.002</text>
<line x1="419.33" y1="347.40" x2="419.33" y2="349.00" stroke="#888" stroke-width="0.9"/>
<text x="412.70" y="359.25" font-size="6.25" font-weight="bold" font-family="Liberation Sans, sans-serif" textLength="13.26" lengthAdjust="spacingAndGlyphs">0.004</text>
<line x1="441.20" y1="347.40" x2="441.20" y2="349.00" stroke="#888" stroke-width="0.9"/>
<text x="434.57" y="359.25" font-size="6.25" font-weight="bold" font-family="Liberation Sans, sans-serif" textLength="13.26" lengthAdjust="spacingAndGlyphs">0.006</text>
<line x1="463.07" y1="347.40" x2="463.07" y2="349.00" stroke="#888" stroke-width="0.9"/>
<text x="456.44" y="359.25" font-size="6.25" font-weight="bold" font-family="Liberation Sans, sans-serif" textLength="13.26" lengthAdjust="spacingAndGlyphs">0.008</text>
<line x1="484.93" y1="347.40" x2="484.93" y2="349.00" stroke="#888" stroke-width="0.9"/>
<text x="479.78" y="359.25" font-size="6.25" font-weight="bold" font-family="Liberation Sans, sans-serif" textLength="10.31" lengthAdjust="spacingAndGlyphs">0.01</text>
<line x1="506.80" y1="347.40" x2="506.80" y2="349.00" stroke="#888" stroke-width="0.9"/>
<text x="500.17" y="359.25" font-size="6.25" font-weight="bold" font-family="Liberation Sans, sans-serif" textLength="13.26" lengthAdjust="spacingAndGlyphs">0.012</text>
<text x="420.80" y="369.70" font-size="6.75" font-weight="bold" font-family="Liberation Sans, sans-serif" textLength="40.90" lengthAdjust="spacingAndGlyphs">RL-90 (dilution)</text>
<text transform="translate(358.20,308.90) rotate(-90)" text-anchor="middle" font-size="6.9" font-weight="bold" font-family="Liberation Sans, sans-serif" textLength="64.00" lengthAdjust="spacingAndGlyphs">% Residual binding</text>
<path d="M375.60,284.07 L381.07,284.07 L386.53,285.33 L430.27,284.70 L484.93,285.33" fill="none" stroke="#000" stroke-width="1.2" stroke-dasharray="1.2,2.2"/>
<path d="M375.60,284.07 C376.51,284.49 379.24,285.97 381.07,286.60 C382.89,287.23 378.33,287.66 386.53,287.87 C394.73,288.08 413.87,287.66 430.27,287.87 C446.67,288.08 475.82,288.92 484.93,289.13" fill="none" stroke="#000" stroke-width="1.2"/>
<path d="M375.60,284.07 C376.51,284.81 379.24,287.44 381.07,288.50 C382.89,289.56 378.33,289.34 386.53,290.40 C394.73,291.46 413.87,293.88 430.27,294.83 C446.67,295.78 475.82,295.89 484.93,296.10" fill="none" stroke="#000" stroke-width="1.2"/>
<path d="M375.60,284.07 C376.51,285.02 379.24,288.39 381.07,289.77 C382.89,291.14 378.33,290.82 386.53,292.30 C394.73,293.78 413.87,296.94 430.27,298.63 C446.67,300.32 475.82,301.80 484.93,302.43" fill="none" stroke="#000" stroke-width="1.2"/>
<path d="M381.07,285.33 V287.87 M380.17,285.33 H381.97 M380.17,287.87 H381.97" stroke="#a4a4a4" stroke-width="0.9" fill="none"/>
<path d="M386.53,285.97 V289.77 M385.63,285.97 H387.43 M385.63,289.77 H387.43" stroke="#a4a4a4" stroke-width="0.9" fill="none"/>
<path d="M430.27,286.60 V289.13 M429.37,286.60 H431.17 M429.37,289.13 H431.17" stroke="#a4a4a4" stroke-width="0.9" fill="none"/>
<path d="M484.93,287.87 V290.40 M484.03,287.87 H485.83 M484.03,290.40 H485.83" stroke="#a4a4a4" stroke-width="0.9" fill="none"/>
<path d="M381.07,286.60 V290.40 M380.17,286.60 H381.97 M380.17,290.40 H381.97" stroke="#a4a4a4" stroke-width="0.9" fill="none"/>
<path d="M386.53,287.87 V292.93 M385.63,287.87 H387.43 M385.63,292.93 H387.43" stroke="#a4a4a4" stroke-width="0.9" fill="none"/>
<path d="M430.27,293.57 V296.10 M429.37,293.57 H431.17 M429.37,296.10 H431.17" stroke="#a4a4a4" stroke-width="0.9" fill="none"/>
<path d="M484.93,294.83 V297.37 M484.03,294.83 H485.83 M484.03,297.37 H485.83" stroke="#a4a4a4" stroke-width="0.9" fill="none"/>
<path d="M381.07,287.87 V291.67 M380.17,287.87 H381.97 M380.17,291.67 H381.97" stroke="#a4a4a4" stroke-width="0.9" fill="none"/>
<path d="M386.53,285.97 V298.63 M385.63,285.97 H387.43 M385.63,298.63 H387.43" stroke="#a4a4a4" stroke-width="0.9" fill="none"/>
<path d="M430.27,297.37 V299.90 M429.37,297.37 H431.17 M429.37,299.90 H431.17" stroke="#a4a4a4" stroke-width="0.9" fill="none"/>
<path d="M484.93,299.90 V304.97 M484.03,299.90 H485.83 M484.03,304.97 H485.83" stroke="#a4a4a4" stroke-width="0.9" fill="none"/>
<path d="M381.07,281.21 L383.93,286.35 L378.21,286.35Z" fill="#000"/>
<path d="M386.53,282.47 L389.39,287.62 L383.67,287.62Z" fill="#000"/>
<path d="M430.27,281.84 L433.13,286.99 L427.41,286.99Z" fill="#000"/>
<path d="M484.93,282.47 L487.79,287.62 L482.07,287.62Z" fill="#000"/>
<path d="M375.60,281.21 L378.46,286.35 L372.74,286.35Z" fill="#000"/>
<path d="M381.07,283.74 L383.93,288.89 L378.21,288.89Z" fill="#000"/>
<path d="M386.53,285.01 L389.39,290.15 L383.67,290.15Z" fill="#000"/>
<path d="M430.27,285.01 L433.13,290.15 L427.41,290.15Z" fill="#000"/>
<path d="M484.93,286.27 L487.79,291.42 L482.07,291.42Z" fill="#000"/>
<path d="M375.60,281.32 L378.35,284.07 L375.60,286.82 L372.85,284.07Z" fill="#000"/>
<path d="M381.07,285.75 L383.82,288.50 L381.07,291.25 L378.32,288.50Z" fill="#000"/>
<path d="M386.53,287.65 L389.28,290.40 L386.53,293.15 L383.78,290.40Z" fill="#000"/>
<path d="M430.27,292.08 L433.02,294.83 L430.27,297.58 L427.52,294.83Z" fill="#000"/>
<path d="M484.93,293.35 L487.68,296.10 L484.93,298.85 L482.18,296.10Z" fill="#000"/>
<rect x="373.46" y="281.92" width="4.29" height="4.29" fill="#000"/>
<rect x="378.92" y="287.62" width="4.29" height="4.29" fill="#000"/>
<rect x="384.39" y="290.15" width="4.29" height="4.29" fill="#000"/>
<rect x="428.12" y="296.49" width="4.29" height="4.29" fill="#000"/>
<rect x="482.79" y="300.29" width="4.29" height="4.29" fill="#000"/>
<text x="0" y="8.9" font-size="10.6" font-weight="bold" font-family="Liberation Sans, sans-serif" transform="translate(0.6,0) scale(1.1,1)">A</text>
<text x="176.6" y="8.9" font-size="10.6" font-weight="bold" font-family="Liberation Sans, sans-serif">B</text>
<text x="347.6" y="8.9" font-size="10.6" font-weight="bold" font-family="Liberation Sans, sans-serif">C</text>
<text x="85.8" y="8.6" font-size="7.6" font-weight="bold" font-family="Liberation Serif, serif" textLength="28.4" lengthAdjust="spacingAndGlyphs">Collagen</text>
<text x="257.3" y="9.2" font-size="7.6" font-weight="bold" font-family="Liberation Serif, serif" textLength="28.5" lengthAdjust="spacingAndGlyphs">CRP-XL</text>
<text x="422.5" y="9.0" font-size="7.4" font-weight="bold" font-family="Liberation Sans, sans-serif" textLength="35.4" lengthAdjust="spacingAndGlyphs">Thrombin</text>
</svg>
</body></html>
